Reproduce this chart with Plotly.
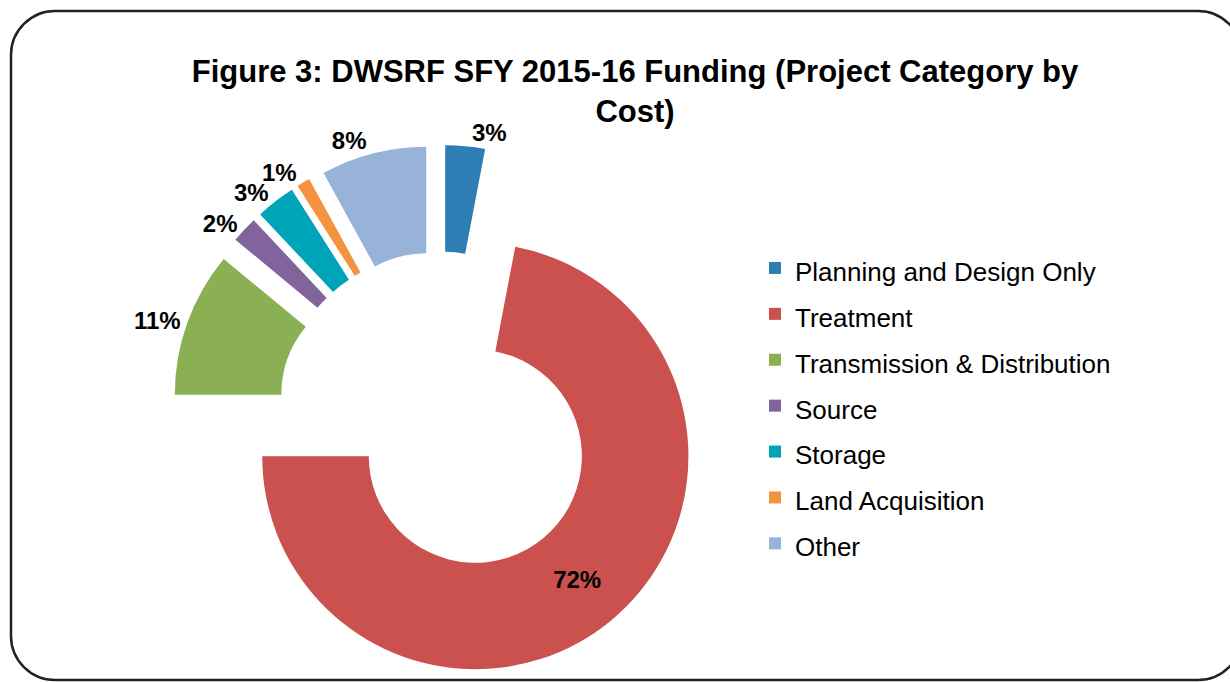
import plotly.graph_objects as go

# data (share of cost, %)
categories = ["Planning and Design Only", "Treatment", "Transmission & Distribution",
              "Source", "Storage", "Land Acquisition", "Other"]
shares = [3, 72, 11, 2, 3, 1, 8]
colors = ["#2E7DB5", "#CB514F", "#8AB053", "#82649C", "#00A4B8", "#F59240", "#97B4D8"]

W, H = 1230, 682
FONT = "Liberation Sans, Arial, sans-serif"
DOMAIN = dict(x=[171.5 / W, 708.5 / W], y=[0, 537 / H])


def px(x, y):
    # pixel (from top-left) -> paper coordinates
    return x / W, 1 - y / H


def frame_path(x0, y0, x1, y1, r):
    k = 0.55 * r
    pts = [
        ("M", [(x0 + r, y0)]),
        ("L", [(x1 - r, y0)]),
        ("C", [(x1 - r + k, y0), (x1, y0 + r - k), (x1, y0 + r)]),
        ("L", [(x1, y1 - r)]),
        ("C", [(x1, y1 - r + k), (x1 - r + k, y1), (x1 - r, y1)]),
        ("L", [(x0 + r, y1)]),
        ("C", [(x0 + r - k, y1), (x0, y1 - r + k), (x0, y1 - r)]),
        ("L", [(x0, y0 + r)]),
        ("C", [(x0, y0 + r - k), (x0 + r - k, y0), (x0 + r, y0)]),
    ]
    out = []
    for cmd, ps in pts:
        out.append(cmd + " ".join("%.5f,%.5f" % px(a, b) for a, b in ps))
    return " ".join(out) + " Z"


label_style = '<span style="font-size:26px">%s</span>'

fig = go.Figure()
# the coloured donut (no text, carries the legend)
fig.add_trace(go.Pie(
    labels=[label_style % c for c in categories],
    values=shares,
    sort=False, direction="clockwise", rotation=0,
    hole=0.5, pull=0.26,
    marker=dict(colors=colors, line=dict(width=0)),
    textinfo="none",
    domain=DOMAIN,
))

# one transparent overlay per slice carrying just that slice's label,
# so plotly never shuffles the outside labels or adds leader lines
for i, c in enumerate(categories):
    pos = ["none"] * len(categories)
    pos[i] = "inside" if c == "Treatment" else "outside"
    fig.add_trace(go.Pie(
        labels=[label_style % c for c in categories],
        values=shares,
        sort=False, direction="clockwise", rotation=0,
        hole=0.5, pull=0.26,
        marker=dict(colors=["rgba(0,0,0,0)"] * len(categories), line=dict(width=0)),
        textinfo="percent",
        textposition=pos,
        insidetextorientation="horizontal",
        textfont=dict(family=FONT, size=24, color="black", weight="bold"),
        showlegend=False,
        hoverinfo="skip",
        domain=DOMAIN,
    ))

fig.update_layout(
    width=W, height=H,
    margin=dict(l=0, r=0, t=0, b=0, autoexpand=False),
    paper_bgcolor="white",
    plot_bgcolor="white",
    title=dict(
        text="Figure 3: DWSRF SFY 2015-16 Funding (Project Category by<br>Cost)",
        x=635 / W, xanchor="center",
        y=1 - 82 / H, yanchor="top",
        font=dict(family=FONT, size=31, color="black", weight="bold"),
    ),
    legend=dict(
        x=755 / W, xanchor="left",
        y=1 - 406 / H, yanchor="middle",
        font=dict(family=FONT, size=33, color="black"),
        bgcolor="rgba(0,0,0,0)",
    ),
    shapes=[dict(
        type="path", xref="paper", yref="paper",
        path=frame_path(11, 11, 1242, 680, 44),
        line=dict(color="#222222", width=2.5),
        fillcolor="rgba(0,0,0,0)",
    )],
)

fig.write_html("out.html", config={"displayModeBar": False},
               post_script="document.body.style.margin='0';")
